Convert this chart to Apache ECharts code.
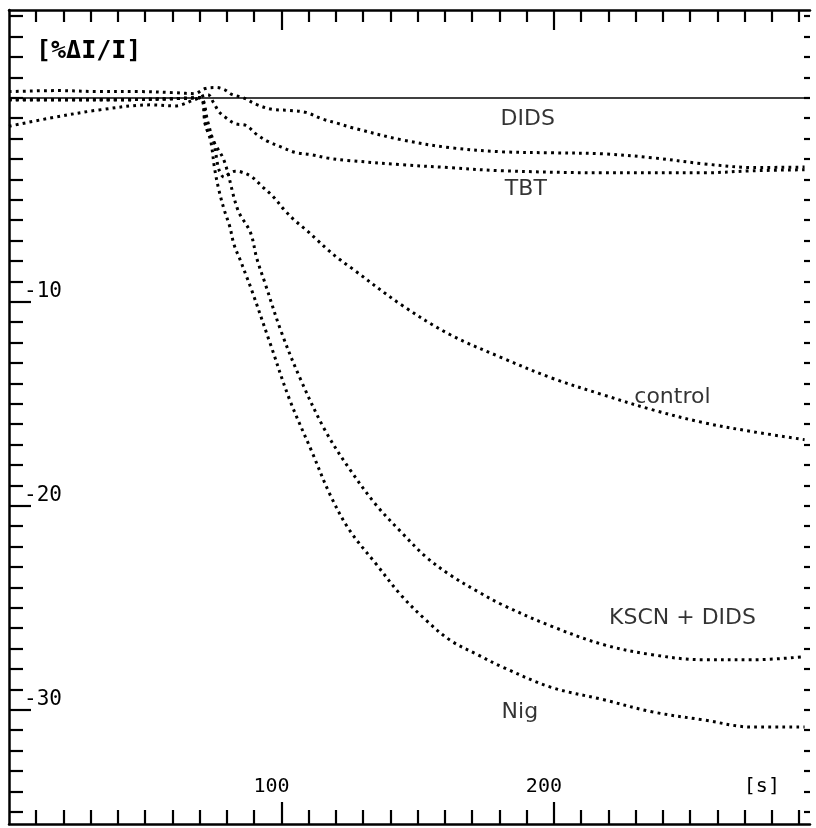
<!DOCTYPE html>
<html>
<head>
<meta charset="utf-8">
<script src="https://cdn.jsdelivr.net/npm/echarts@6/dist/echarts.min.js"></script>
<style>
html,body{margin:0;padding:0;background:#fff;}
#chart{width:816px;height:828px;}
</style>
</head>
<body>
<div id="chart"></div>
<script>
// ---- data (x in seconds, y in %ΔI/I) ----
const seriesNames = ['DIDS', 'TBT', 'control', 'KSCN + DIDS', 'Nig'];

const didsData = [[0,0.3],[18,0.35],[33,0.3],[48,0.3],[60,0.25],[68,0.2],[72,0.45],[76,0.5],[79,0.4],[82,0.15],[86,0],[91,-0.34],[97,-0.58],[103,-0.62],[109,-0.72],[115,-1.04],[121,-1.27],[126,-1.47],[144,-2.06],[162,-2.45],[181,-2.65],[199,-2.7],[218,-2.75],[236,-2.94],[255,-3.24],[273,-3.42],[292,-3.4]];

const tbtData = [[0,-1.4],[15,-1.0],[33,-0.6],[52,-0.35],[61,-0.4],[68,-0.1],[73,0.15],[75,-0.23],[77,-0.67],[79,-0.92],[83,-1.27],[87,-1.36],[91,-1.81],[95,-2.14],[100,-2.42],[105,-2.68],[111,-2.79],[117,-2.96],[124,-3.07],[144,-3.28],[162,-3.43],[181,-3.58],[218,-3.68],[255,-3.68],[273,-3.58],[292,-3.53]];

const controlData = [[0,-0.1],[20,-0.1],[40,-0.1],[60,-0.05],[70,0],[72.5,-1.5],[75,-2.1],[77,-3.5],[79,-3.9],[81,-3.7],[83,-3.6],[85,-3.63],[89,-3.87],[93,-4.36],[97,-4.85],[101,-5.49],[105,-6.03],[109,-6.47],[113,-6.96],[117,-7.45],[121,-7.89],[125.5,-8.33],[144,-10.15],[162,-11.62],[181,-12.75],[199,-13.73],[218,-14.56],[236,-15.29],[255,-15.93],[273,-16.37],[292,-16.76]];

const kscnData = [[0,-0.1],[20,-0.1],[40,-0.1],[60,-0.05],[70,0],[73,-1.2],[75,-2.1],[79,-3.1],[84,-5.5],[88.6,-6.6],[91,-7.9],[94,-9.1],[100,-11.5],[107,-13.8],[116,-16.3],[125,-18.2],[135,-20.0],[144,-21.3],[153,-22.5],[162,-23.4],[172,-24.2],[181,-24.85],[199,-25.9],[218,-26.8],[236,-27.3],[255,-27.55],[273,-27.55],[292,-27.4]];

const nigData = [[0,-0.1],[20,-0.1],[40,-0.1],[60,-0.05],[70,0],[72,-1.3],[74,-2.1],[75.5,-3.5],[77,-4.5],[79,-5.5],[81,-6.3],[82.6,-7.2],[85,-8.0],[87,-8.7],[89,-9.4],[96,-12.1],[103,-14.8],[111,-17.3],[118,-19.5],[125,-21.2],[135,-22.9],[144,-24.4],[153,-25.6],[162,-26.6],[172,-27.3],[181,-27.9],[199,-28.9],[218,-29.5],[236,-30.1],[255,-30.5],[273,-30.85],[292,-30.85]];

const xTickValues = [10,20,30,40,50,60,70,80,90,100,110,120,130,140,150,160,170,180,190,200,210,220,230,240,250,260,270,280,290];
const xMajorValues = [100, 200];
const xLabelValues = [100, 200, 280];
const xUnitLabel = '[s]';
const yTickValues = [4,3,2,1,0,-1,-2,-3,-4,-5,-6,-7,-8,-9,-10,-11,-12,-13,-14,-15,-16,-17,-18,-19,-20,-21,-22,-23,-24,-25,-26,-27,-28,-29,-30,-31,-32,-33,-34,-35];
const yMajorValues = [-10, -20, -30];
const yTitle = '[%ΔI/I]';

const annotationTexts = ['DIDS', 'TBT', 'control', 'KSCN + DIDS', 'Nig'];
const annotationX = [190.4, 189.7, 243.5, 247.2, 187.5];
const annotationY = [-1.08, -4.51, -14.7, -25.5, -30.1];

// ---- chart ----
const X_MIN = 0, X_MAX = 294, Y_MIN = -35.6, Y_MAX = 4.3;
const mono = 'DejaVu Sans Mono';

function xAx(pos, ticks, len, showLine, labels) {
  return {
    type: 'value', position: pos, min: X_MIN, max: X_MAX,
    axisLine: { show: showLine, onZero: false, lineStyle: { color: '#000', width: 2.5 } },
    axisTick: { show: true, inside: true, length: len, customValues: ticks, lineStyle: { color: '#000', width: 2.2 } },
    axisLabel: labels ? {
      show: true, inside: true, margin: 27, customValues: xLabelValues,
      formatter: v => (v === 280 ? xUnitLabel : String(v)),
      fontFamily: mono, fontSize: 20, color: '#000', padding: [0, 20, 0, 0]
    } : { show: false },
    splitLine: { show: false }
  };
}
function yAx(pos, ticks, len, showLine, labels) {
  return {
    type: 'value', position: pos, min: Y_MIN, max: Y_MAX,
    axisLine: { show: showLine, onZero: false, lineStyle: { color: '#000', width: 2.5 } },
    axisTick: { show: true, inside: true, length: len, customValues: ticks, lineStyle: { color: '#000', width: 2.2 } },
    axisLabel: labels ? {
      show: true, inside: true, margin: 15, customValues: yMajorValues,
      formatter: v => String(v), fontFamily: mono, fontSize: 21, color: '#000',
      verticalAlign: 'bottom', lineHeight: 20
    } : { show: false },
    splitLine: { show: false }
  };
}

function dotted(name, data) {
  return {
    name: name, type: 'line', data: data, smooth: 0.35,
    xAxisIndex: 0, yAxisIndex: 0,
    showSymbol: false, symbol: 'none', silent: true, animation: false,
    lineStyle: { color: '#000', width: 3, type: [2.8, 4.2], cap: 'butt' }
  };
}

const chart = echarts.init(document.getElementById('chart'), null, { renderer: 'canvas' });
const series = [
  dotted(seriesNames[0], didsData),
  dotted(seriesNames[1], tbtData),
  dotted(seriesNames[2], controlData),
  dotted(seriesNames[3], kscnData),
  dotted(seriesNames[4], nigData),
  {
    type: 'scatter', xAxisIndex: 0, yAxisIndex: 0, silent: true, animation: false,
    symbolSize: 0,
    data: annotationTexts.map((t, i) => [annotationX[i], annotationY[i], t]),
    label: { show: true, position: 'inside', formatter: p => p.data[2],
      fontFamily: 'DejaVu Sans', fontSize: 22, color: '#000' },
    markLine: {
      silent: true, symbol: 'none', animation: false,
      label: { show: false },
      lineStyle: { type: 'solid', color: '#000', width: 1.6 },
      data: [{ yAxis: 0 }]
    }
  }
];

chart.setOption({
  animation: false,
  backgroundColor: '#fff',
  title: { text: yTitle, left: 31, top: 34,
    textStyle: { fontFamily: mono, fontWeight: 'bold', fontSize: 25, color: '#000' } },
  grid: { left: 9, right: 6, top: 10, bottom: 4, containLabel: false },
  xAxis: [
    xAx('bottom', xTickValues.filter(v => xMajorValues.indexOf(v) < 0), 14, true, true),
    xAx('bottom', xMajorValues, 22, false, false),
    xAx('top', xTickValues.filter(v => xMajorValues.indexOf(v) < 0), 12, true, false),
    xAx('top', xMajorValues, 20, false, false)
  ],
  yAxis: [
    yAx('left', yTickValues.filter(v => yMajorValues.indexOf(v) < 0), 14, true, true),
    yAx('left', yMajorValues, 22, false, false),
    yAx('right', yTickValues, 6, false, false)
  ],
  series: series
});
</script>
</body>
</html>
